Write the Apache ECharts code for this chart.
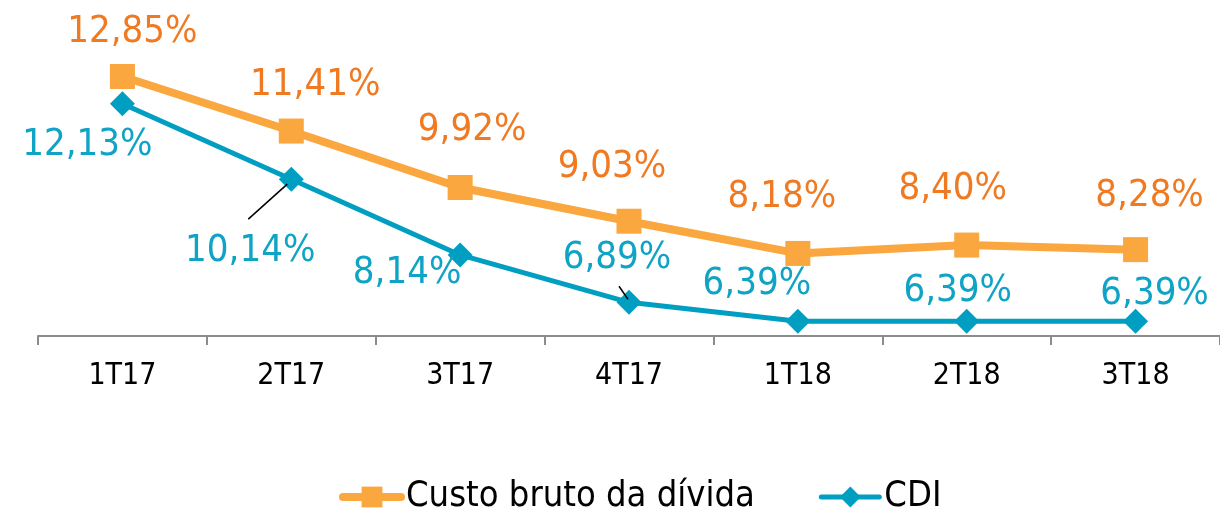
<!DOCTYPE html>
<html>
<head>
<meta charset="utf-8">
<script src="https://cdn.jsdelivr.net/npm/echarts@6/dist/echarts.min.js"></script>
<style>
html, body { margin: 0; padding: 0; background: #fff; }
#chart { width: 1220px; height: 511px; }
</style>
</head>
<body>
<div id="chart"></div>
<script>
// dados
const categories = ["1T17", "2T17", "3T17", "4T17", "1T18", "2T18", "3T18"];
const custoBruto = [12.85, 11.41, 9.92, 9.03, 8.18, 8.40, 8.28];
const cdi = [12.13, 10.14, 8.14, 6.89, 6.39, 6.39, 6.39];

// deslocamento dos rotulos (centro do texto em relacao ao ponto)
const custoOffsets = [[10, -44], [24, -46], [12, -57], [-17, -54], [-16, -56], [-14, -56], [14, -54]];
const cdiOffsets = [[-35, 41], [-41, 72], [-53, 18], [-12, -44], [-41, -37], [-9, -30], [19, -27]];

const fontFamily = "'DejaVu Sans Condensed', 'DejaVu Sans', sans-serif";
const fmt = (v) => v.toFixed(2).replace(".", ",") + "%";

function buildData(values, offsets) {
  return values.map((v, i) => ({
    value: v,
    label: { offset: offsets[i] },
  }));
}

const myChart = echarts.init(document.getElementById("chart"));
const option = {
  animation: false,
  grid: { left: 38, right: 0, top: 14, bottom: 175 },
  xAxis: {
    type: "category",
    data: categories,
    boundaryGap: true,
    axisLine: { lineStyle: { color: "#8c8c8c", width: 2 } },
    axisTick: { show: true, length: 9, lineStyle: { color: "#8c8c8c", width: 2 } },
    axisLabel: { color: "#000", fontSize: 30, fontFamily: fontFamily, margin: 25 },
  },
  yAxis: {
    type: "value",
    min: 6,
    max: 14.5,
    show: false,
    splitLine: { show: false },
  },
  legend: {
    left: 334,
    top: 474,
    itemWidth: 58,
    itemHeight: 26,
    itemGap: 64,
    textStyle: { color: "#000", fontSize: 36, fontFamily: fontFamily },
    data: [
      { name: "Custo bruto da dívida", lineStyle: { width: 8, cap: "round" } },
      { name: "CDI", lineStyle: { width: 5, cap: "round" } },
    ],
  },
  series: [
    {
      name: "Custo bruto da dívida",
      type: "line",
      data: buildData(custoBruto, custoOffsets),
      symbol: "rect",
      symbolSize: 25,
      color: "#F9A73E",
      lineStyle: { color: "#F9A73E", width: 8 },
      itemStyle: { color: "#F9A73E" },
      label: {
        show: true,
        position: "inside",
        align: "center",
        verticalAlign: "middle",
        color: "#F07A22",
        fontSize: 38,
        fontFamily: fontFamily,
        formatter: (p) => fmt(p.value),
      },
      z: 2,
    },
    {
      name: "CDI",
      type: "line",
      data: buildData(cdi, cdiOffsets),
      symbol: "diamond",
      symbolSize: 25,
      color: "#009FC2",
      lineStyle: { color: "#009FC2", width: 5 },
      itemStyle: { color: "#009FC2" },
      label: {
        show: true,
        position: "inside",
        align: "center",
        verticalAlign: "middle",
        color: "#0FA3C5",
        fontSize: 38,
        fontFamily: fontFamily,
        formatter: (p) => fmt(p.value),
      },
      z: 3,
    },
  ],
};
myChart.setOption(option);

// linhas de chamada dos rotulos 10,14% e 6,89%
const leaders = [
  { idx: 1, from: [-43, 40], to: [-4, 5] },
  { idx: 3, from: [-10, -16], to: [-1, -3] },
];
const graphics = leaders.map((l) => {
  const p = myChart.convertToPixel({ seriesIndex: 1 }, [l.idx, cdi[l.idx]]);
  return {
    type: "line",
    z: 10,
    shape: { x1: p[0] + l.from[0], y1: p[1] + l.from[1], x2: p[0] + l.to[0], y2: p[1] + l.to[1] },
    style: { stroke: "#000", lineWidth: 1.5 },
  };
});
myChart.setOption({ graphic: graphics });
</script>
</body>
</html>
